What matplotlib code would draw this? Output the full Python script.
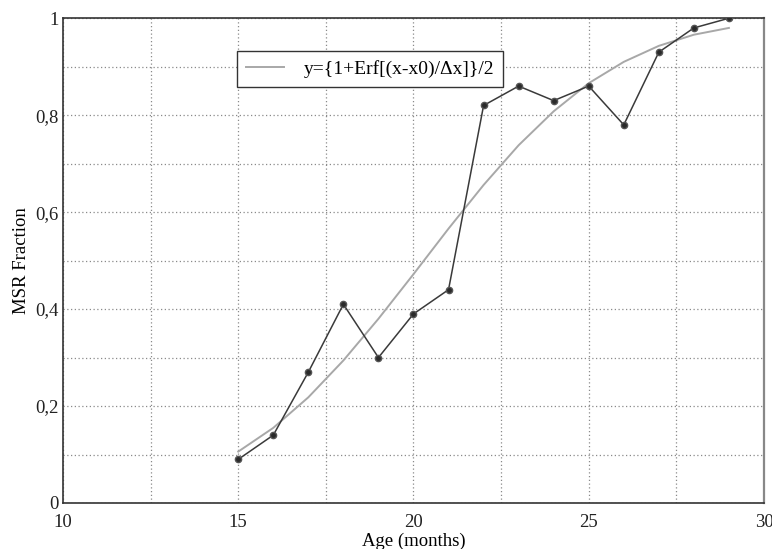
import matplotlib
matplotlib.use("Agg")
import matplotlib.pyplot as plt
import matplotlib.ticker as mticker

# ── Data ─────────────────────────────────────────────────────────────
age = [15, 16, 17, 18, 19, 20, 21, 22, 23, 24, 25, 26, 27, 28, 29]
msr_fraction = [0.09, 0.14, 0.27, 0.41, 0.30, 0.39, 0.44, 0.82, 0.86,
                0.83, 0.86, 0.78, 0.93, 0.98, 1.00]
# erf fit curve at each month
fit_values = [0.106, 0.155, 0.218, 0.294, 0.380, 0.472, 0.566, 0.656,
              0.738, 0.808, 0.866, 0.910, 0.943, 0.966, 0.980]

x_ticks = [10, 15, 20, 25, 30]
y_ticks = [0, 0.2, 0.4, 0.6, 0.8, 1.0]
y_tick_labels = ["0", "0,2", "0,4", "0,6", "0,8", "1"]

# ── Style ────────────────────────────────────────────────────────────
plt.rcParams["font.family"] = ["Liberation Serif", "DejaVu Serif"]
DARK = "#3a3a3a"
LIGHT = "#a8a8a8"
GRID = "#8a8a8a"

fig = plt.figure(figsize=(7.72, 5.49), dpi=100)
ax = fig.add_axes([0.0816, 0.0838, 0.908, 0.883])

ax.plot(age, fit_values, color=LIGHT, linewidth=1.4,
        label="y={1+Erf[(x-x0)/\u0394x]}/2", zorder=2)
ax.plot(age, msr_fraction, color=DARK, linewidth=1.1, marker="o",
        markersize=4.5, markerfacecolor="#2a2a2a", markeredgecolor="#555555",
        zorder=3)

ax.set_xlim(10, 30)
ax.set_ylim(0, 1)
ax.set_xticks(x_ticks)
ax.set_yticks(y_ticks)
ax.set_yticklabels(y_tick_labels)
ax.xaxis.set_minor_locator(mticker.MultipleLocator(2.5))
ax.yaxis.set_minor_locator(mticker.MultipleLocator(0.1))
ax.grid(which="both", linestyle=(0, (1, 2)), color=GRID, linewidth=0.9)
ax.tick_params(which="both", length=0, labelsize=13.5, colors="#222222", pad=3)
ax.tick_params(axis="x", pad=8)

for side in ["left", "bottom", "top"]:
    ax.spines[side].set_color("#333333")
    ax.spines[side].set_linewidth(1.2)
ax.spines["right"].set_color("#888888")
ax.spines["right"].set_linewidth(1.6)

ax.set_xlabel("Age (months)", fontsize=13.5, labelpad=1)
ax.set_ylabel("MSR Fraction", fontsize=13.5, labelpad=4)

leg = ax.legend(loc="upper left", bbox_to_anchor=(0.248, 0.932), fontsize=14,
                frameon=True, fancybox=False, handlelength=2.0,
                borderpad=0.45, handletextpad=1.0, borderaxespad=0)
leg.get_frame().set_edgecolor("#333333")
leg.get_frame().set_linewidth(1.0)
leg.get_frame().set_alpha(1.0)

fig.savefig("out.png", dpi=100, facecolor="white")
